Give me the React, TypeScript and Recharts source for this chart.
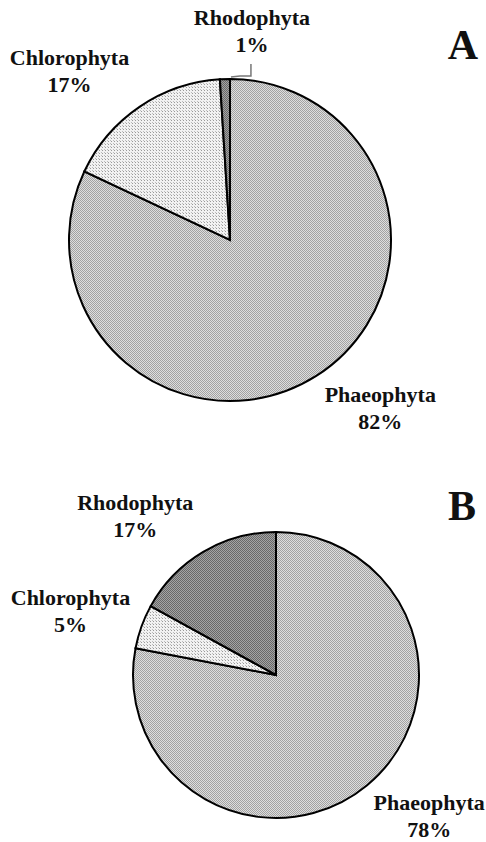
import React from "react";
import { Cell, Pie, PieChart } from "recharts";

const categories = ["Phaeophyta", "Chlorophyta", "Rhodophyta"];
const panelA = [82, 17, 1];
const panelB = [78, 5, 17];
const panelLetters = ["A", "B"];

const FILLS: Record<string, string> = {
  Phaeophyta: "url(#patPhaeo)",
  Chlorophyta: "url(#patChloro)",
  Rhodophyta: "url(#patRhodo)",
};

// offsets of each label block from the slice's outer edge point
const OFFSETS_A: Record<string, [number, number]> = {
  Phaeophyta: [64, 26],
  Chlorophyta: [-70, -42],
  Rhodophyta: [27, -54],
};
const OFFSETS_B: Record<string, [number, number]> = {
  Phaeophyta: [62, 25],
  Chlorophyta: [-71, -22],
  Rhodophyta: [-68, -42],
};

const FONT = "Liberation Serif";
const RAD = Math.PI / 180;

function toRows(values: number[]) {
  return categories.map((name, i) => ({ name, value: values[i] }));
}

function edgePoint(p: any) {
  return {
    x: p.cx + p.outerRadius * Math.cos(-p.midAngle * RAD),
    y: p.cy + p.outerRadius * Math.sin(-p.midAngle * RAD),
  };
}

function makeLabel(offsets: Record<string, [number, number]>) {
  return (p: any) => {
    const e = edgePoint(p);
    const [dx, dy] = offsets[p.name];
    const x = e.x + dx;
    const y = e.y + dy;
    return (
      <text
        x={x}
        y={y}
        textAnchor="middle"
        fontFamily={FONT}
        fontWeight="bold"
        fontSize={22}
        fill="#111"
      >
        <tspan x={x} y={y}>
          {p.name}
        </tspan>
        <tspan x={x} y={y + 27}>
          {`${p.value}%`}
        </tspan>
      </text>
    );
  };
}

function rhodoLine(p: any) {
  if (p.name !== "Rhodophyta") return <g />;
  const e = edgePoint(p);
  const d = `M${e.x + 6},${e.y - 2} L${e.x + 15},${e.y - 3} L${e.x + 26},${e.y - 3} L${e.x + 26},${e.y - 15}`;
  return <path d={d} stroke="#777" strokeWidth={1.5} fill="none" />;
}

export default function App() {
  const rowsA = toRows(panelA);
  const rowsB = toRows(panelB);
  return (
    <div style={{ position: "relative", width: 486, height: 842, background: "#fff" }}>
      <style>{"body{margin:0}"}</style>
      <PieChart width={486} height={842} margin={{ top: 0, right: 0, bottom: 0, left: 0 }}>
        <defs>
          <pattern id="patPhaeo" width={2} height={2} patternUnits="userSpaceOnUse">
            <rect width={2} height={2} fill="#dedede" />
            <rect width={1} height={1} fill="#a2a2a2" />
            <rect x={1} y={1} width={1} height={1} fill="#a2a2a2" />
          </pattern>
          <pattern id="patChloro" width={3} height={3} patternUnits="userSpaceOnUse">
            <rect width={3} height={3} fill="#f2f2f2" />
            <rect width={1} height={1} fill="#9a9a9a" />
            <rect x={2} y={2} width={1} height={1} fill="#bdbdbd" />
          </pattern>
          <pattern id="patRhodo" width={2} height={2} patternUnits="userSpaceOnUse">
            <rect width={2} height={2} fill="#a4a4a4" />
            <rect width={1} height={1} fill="#686868" />
            <rect x={1} y={1} width={1} height={1} fill="#686868" />
          </pattern>
        </defs>
        <Pie
          data={rowsA}
          dataKey="value"
          nameKey="name"
          cx={230}
          cy={240}
          outerRadius={161}
          startAngle={90}
          endAngle={-270}
          stroke="#000"
          strokeWidth={2}
          label={makeLabel(OFFSETS_A)}
          labelLine={rhodoLine}
          isAnimationActive={false}
        >
          {rowsA.map((r) => (
            <Cell key={r.name} fill={FILLS[r.name]} />
          ))}
        </Pie>
        <Pie
          data={rowsB}
          dataKey="value"
          nameKey="name"
          cx={276}
          cy={675}
          outerRadius={143}
          startAngle={90}
          endAngle={-270}
          stroke="#000"
          strokeWidth={2}
          label={makeLabel(OFFSETS_B)}
          labelLine={false}
          isAnimationActive={false}
        >
          {rowsB.map((r) => (
            <Cell key={r.name} fill={FILLS[r.name]} />
          ))}
        </Pie>
      </PieChart>
      <svg
        width={486}
        height={842}
        style={{ position: "absolute", left: 0, top: 0, pointerEvents: "none" }}
      >
        <text x={463} y={59} textAnchor="middle" fontFamily={FONT} fontWeight="bold" fontSize={42} fill="#111">
          {panelLetters[0]}
        </text>
        <text x={462} y={520} textAnchor="middle" fontFamily={FONT} fontWeight="bold" fontSize={42} fill="#111">
          {panelLetters[1]}
        </text>
      </svg>
    </div>
  );
}
